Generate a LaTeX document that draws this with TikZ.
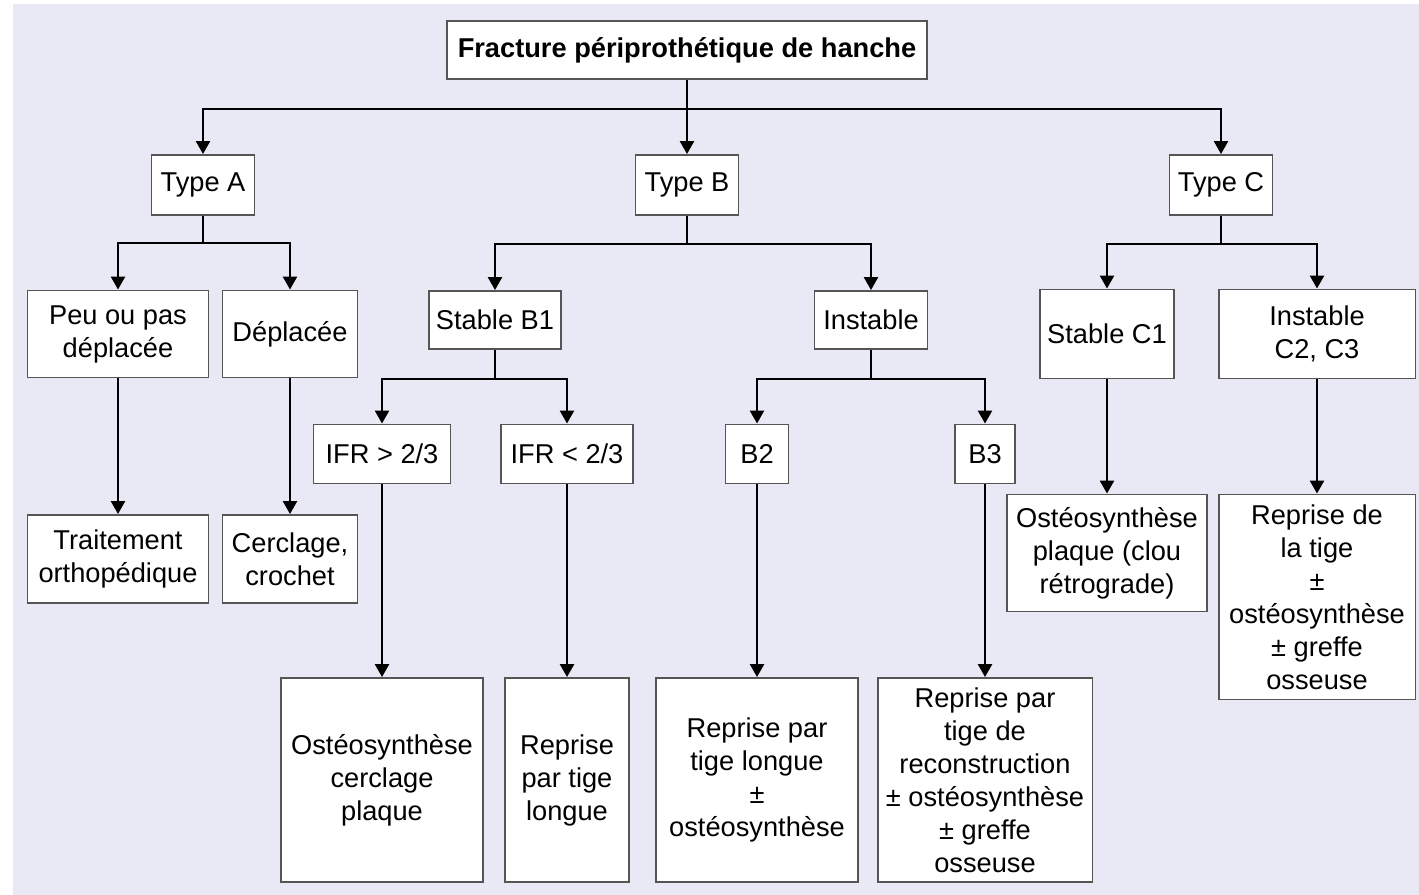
\documentclass[tikz,border=0pt]{standalone}
\usepackage{fontspec}
\setmainfont{Liberation Sans}
\usetikzlibrary{arrows.meta,positioning}
\definecolor{fondlav}{RGB}{233,233,245}
\definecolor{bord}{RGB}{85,85,85}

\begin{document}
\begin{tikzpicture}[x=0.02cm,y=-0.02cm,
    boite/.style={draw=bord, line width=1.1pt, fill=white, align=center, inner sep=0pt,
        font=\fontsize{15.5}{18.8}\selectfont},
    fleche/.style={line width=1.4pt, -{Triangle[width=0.28cm,length=0.26cm]}},
    trait/.style={line width=1.4pt}]

    % fond
    \useasboundingbox (0,0) rectangle (1419,895);
    \fill[fondlav] (13,4) rectangle (1419,895);

    % racine
    \node[boite, minimum width=9.6cm, minimum height=1.16cm, font=\fontsize{15.5}{18.8}\selectfont\bfseries]
        (racine) at (687,50) {Fracture périprothétique de hanche};

    % types
    \node[boite, minimum width=2.06cm, minimum height=1.2cm] (typeA) at (203,185) {Type A};
    \node[boite, minimum width=2.06cm, minimum height=1.2cm] (typeB) at (687,185) {Type B};
    \node[boite, minimum width=2.06cm, minimum height=1.2cm] (typeC) at (1221,185) {Type C};

    % type A
    \node[boite, minimum width=3.62cm, minimum height=1.74cm] (peu) at (118,334) {Peu ou pas\\déplacée};
    \node[boite, minimum width=2.7cm, minimum height=1.74cm] (depl) at (290,334) {Déplacée};
    \node[boite, minimum width=3.62cm, minimum height=1.76cm] (ortho) at (118,559) {Traitement\\orthopédique};
    \node[boite, minimum width=2.7cm, minimum height=1.76cm] (cercl) at (290,559) {Cerclage,\\crochet};

    % type B
    \node[boite, minimum width=2.64cm, minimum height=1.16cm] (stB) at (495,320) {Stable B1};
    \node[boite, minimum width=2.26cm, minimum height=1.16cm] (instB) at (871,320) {Instable};
    \node[boite, minimum width=2.74cm, minimum height=1.18cm] (ifrsup) at (382,454) {IFR > 2/3};
    \node[boite, minimum width=2.64cm, minimum height=1.18cm] (ifrinf) at (567,454) {IFR < 2/3};
    \node[boite, minimum width=1.26cm, minimum height=1.18cm] (bdeux) at (757,454) {B2};
    \node[boite, minimum width=1.2cm, minimum height=1.18cm] (btrois) at (985,454) {B3};
    \node[boite, minimum width=4.04cm, minimum height=4.08cm] (osc) at (382,780) {Ostéosynthèse\\cerclage\\plaque};
    \node[boite, minimum width=2.48cm, minimum height=4.08cm] (rtl) at (567,780) {Reprise\\par tige\\longue};
    \node[boite, minimum width=4.04cm, minimum height=4.08cm] (rtlo) at (757,780) {Reprise par\\tige longue\\±\\ostéosynthèse};
    \node[boite, minimum width=4.3cm, minimum height=4.08cm] (rtr) at (985,780)
        {Reprise par\\tige de\\reconstruction\\± ostéosynthèse\\± greffe\\osseuse};

    % type C
    \node[boite, minimum width=2.68cm, minimum height=1.78cm] (stC) at (1107,334) {Stable C1};
    \node[boite, minimum width=3.94cm, minimum height=1.78cm] (instC) at (1317,334) {Instable\\C2, C3};
    \node[boite, minimum width=4.0cm, minimum height=2.34cm] (ostc) at (1107,553) {Ostéosynthèse\\plaque (clou\\rétrograde)};
    \node[boite, minimum width=3.94cm, minimum height=4.1cm] (rtig) at (1317,597)
        {Reprise de\\la tige\\±\\ostéosynthèse\\± greffe\\osseuse};

    % connecteurs
    \draw[trait] (racine.south) -- ++(0,29) coordinate (j0);
    \draw[fleche] (j0) -| (typeA.north);
    \draw[fleche] (j0) -- (typeB.north);
    \draw[fleche] (j0) -| (typeC.north);

    \draw[trait] (typeA.south) -- ++(0,27) coordinate (jA);
    \draw[fleche] (jA) -| (peu.north);
    \draw[fleche] (jA) -| (depl.north);
    \draw[fleche] (peu) -- (ortho);
    \draw[fleche] (depl) -- (cercl);

    \draw[trait] (typeB.south) -- ++(0,28) coordinate (jB);
    \draw[fleche] (jB) -| (stB.north);
    \draw[fleche] (jB) -| (instB.north);
    \draw[trait] (stB.south) -- ++(0,29) coordinate (jB1);
    \draw[fleche] (jB1) -| (ifrsup.north);
    \draw[fleche] (jB1) -| (ifrinf.north);
    \draw[trait] (instB.south) -- ++(0,29) coordinate (jB2);
    \draw[fleche] (jB2) -| (bdeux.north);
    \draw[fleche] (jB2) -| (btrois.north);
    \draw[fleche] (ifrsup) -- (osc);
    \draw[fleche] (ifrinf) -- (rtl);
    \draw[fleche] (bdeux) -- (rtlo);
    \draw[fleche] (btrois) -- (rtr);

    \draw[trait] (typeC.south) -- ++(0,28) coordinate (jC);
    \draw[fleche] (jC) -| (stC.north);
    \draw[fleche] (jC) -| (instC.north);
    \draw[fleche] (stC) -- (ostc);
    \draw[fleche] (instC) -- (rtig);
\end{tikzpicture}
\end{document}
